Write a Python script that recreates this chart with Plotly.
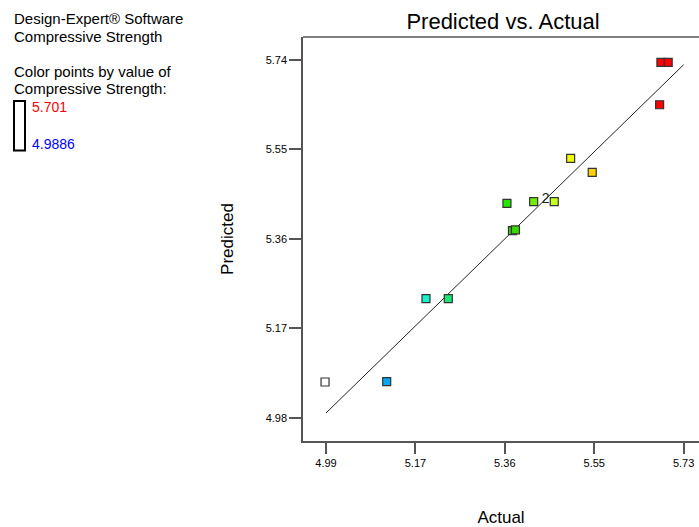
import plotly.graph_objects as go

# Data
actual = [4.988, 5.1156, 5.1969, 5.243, 5.3758, 5.382, 5.3644, 5.4197, 5.4623,
          5.4962, 5.5409, 5.6803, 5.683, 5.698]
predicted = [5.0559, 5.0566, 5.2329, 5.2329, 5.3774, 5.3790, 5.4356, 5.439, 5.439,
             5.5312, 5.5014, 5.645, 5.7351, 5.7351]
point_colors = ["#FFFFFF", "#08A8F0", "#18F0C8", "#18E878", "#30D000", "#38D800",
                "#22E800", "#70EE00", "#C8FF20", "#EEFF00", "#FFD000", "#FF0000",
                "#FF0000", "#FF0000"]
fit_line = [4.99, 5.73]
label_pos = (5.4445, 5.4426)
label_text = "2"

x_ticks = [4.99, 5.175, 5.36, 5.545, 5.73]
x_tick_labels = ["4.99", "5.17", "5.36", "5.55", "5.73"]
y_ticks = [4.98, 5.17, 5.36, 5.55, 5.74]
y_tick_labels = ["4.98", "5.17", "5.36", "5.55", "5.74"]
legend_max = "5.701"
legend_min = "4.9886"

FONT = "Liberation Sans, Arial, sans-serif"
W, H = 699, 527
PL, PT, PB = 303, 37, 441          # plot box in reference pixels
PW, PH = W - PL, PB - PT

fig = go.Figure()
fig.add_trace(go.Scatter(x=fit_line, y=fit_line, mode="lines",
                         line=dict(color="#222222", width=1), hoverinfo="skip"))
fig.add_trace(go.Scatter(x=actual, y=predicted, mode="markers",
                         marker=dict(symbol="square", size=8, color=point_colors,
                                     line=dict(color="#333333", width=1.2))))
fig.add_trace(go.Scatter(x=[label_pos[0]], y=[label_pos[1]], mode="text",
                         text=[label_text],
                         textfont=dict(family=FONT, size=14, color="#222222")))

fig.update_layout(
    width=W, height=H,
    margin=dict(l=PL, r=0, t=PT, b=H - PB, pad=0),
    paper_bgcolor="white", plot_bgcolor="white",
    showlegend=False,
    font=dict(family=FONT, color="black"),
    title=dict(text="Predicted vs. Actual", x=503 / W, xanchor="center",
               y=1 - 21 / H, yanchor="middle",
               font=dict(family=FONT, size=22, color="black")),
    xaxis=dict(range=[4.9424, 5.7618], tickvals=x_ticks, ticktext=x_tick_labels,
               showgrid=False, zeroline=False, showline=True, linecolor="#555555",
               linewidth=1.5, ticks="outside", ticklen=11, tickwidth=1.5,
               tickcolor="#555555", tickfont=dict(size=11, family=FONT),
               title=dict(text="Actual", font=dict(size=17, family=FONT), standoff=43)),
    yaxis=dict(range=[4.9305, 5.7889], tickvals=y_ticks, ticktext=y_tick_labels,
               showgrid=False, zeroline=False, showline=True, linecolor="#555555",
               linewidth=1.5, ticks="outside", ticklen=12, tickwidth=1.5,
               tickcolor="#555555", tickfont=dict(size=11, family=FONT),
               title=dict(text="Predicted", font=dict(size=17, family=FONT), standoff=28)),
)

# top border of plot box (right side runs off the page in the reference)
fig.add_shape(type="line", xref="paper", yref="paper", x0=0, x1=1, y0=1, y1=1,
              line=dict(color="#555555", width=1.5))


def px(x):
    return (x - PL) / PW


def py(y):
    return (PB - y) / PH


# left-side info text
info_lines = [("Design-Expert® Software", 19), ("Compressive Strength", 36),
              ("Color points by value of", 72), ("Compressive Strength:", 88)]
for txt, yc in info_lines:
    fig.add_annotation(text=txt, xref="paper", yref="paper",
                       x=px(12), y=py(yc), xanchor="left", yanchor="middle",
                       showarrow=False, font=dict(family=FONT, size=15, color="black"))
fig.add_annotation(text=legend_max, xref="paper", yref="paper",
                   x=px(30), y=py(107), xanchor="left", yanchor="middle",
                   showarrow=False, font=dict(family=FONT, size=14, color="#FF0000"))
fig.add_annotation(text=legend_min, xref="paper", yref="paper",
                   x=px(30), y=py(144), xanchor="left", yanchor="middle",
                   showarrow=False, font=dict(family=FONT, size=14, color="#0000FF"))
fig.add_shape(type="rect", xref="paper", yref="paper",
              x0=px(14), x1=px(25), y0=py(150.5), y1=py(101),
              line=dict(color="black", width=2), fillcolor="white")

fig.write_html(
    "out.html",
    config={"displayModeBar": False},
    post_script="document.body.style.margin='0';document.body.style.overflow='hidden';",
)
